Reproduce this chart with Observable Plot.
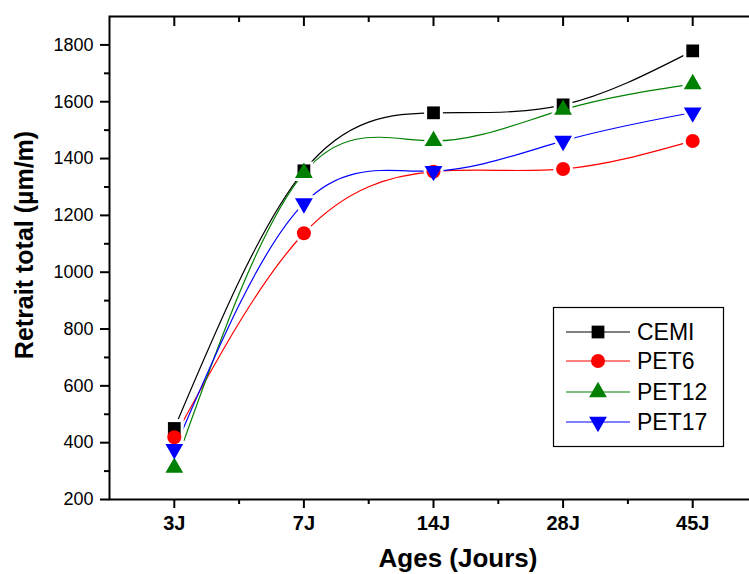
<!DOCTYPE html>
<html><head><meta charset="utf-8">
<script src="https://cdn.jsdelivr.net/npm/d3@7"></script>
<script src="https://cdn.jsdelivr.net/npm/@observablehq/plot@0.6"></script>
<style>
body{margin:0;background:#fff;}
#chart{position:relative;width:749px;height:574px;overflow:hidden;background:#fff;}
#chart svg{display:block;}
#overlay{position:absolute;left:0;top:0;pointer-events:none;}
</style></head><body><div id="chart"></div>
<script>
// ---- data ----
const ages = ["3J", "7J", "14J", "28J", "45J"];
const cemi  = [450, 1357, 1561, 1589, 1779];
const pet6  = [419, 1137, 1354, 1363, 1462];
const pet12 = [312, 1350, 1462, 1572, 1662];
const pet17 = [377, 1242, 1356, 1462, 1562];
const seriesNames  = ["CEMI", "PET6", "PET12", "PET17"];
const seriesValues = [cemi, pet6, pet12, pet17];
const seriesColors = ["#000000", "#ff0000", "#008000", "#0000ff"];
const yMajorTicks = [200, 400, 600, 800, 1000, 1200, 1400, 1600, 1800];
const yMinorTicks = [300, 500, 700, 900, 1100, 1300, 1500, 1700];
const xMajorTicks = [1, 2, 3, 4, 5];
const xMinorTicks = [1.5, 2.5, 3.5, 4.5];
const yDomain = [200, 1900];
const xDomain = [0.5, 5.5];
const xTitle = "Ages (Jours)";
const yTitle = "Retrait total (µm/m)";

// ---- symbols ----
const sqrt3 = Math.sqrt(3);
const triangleDown = {
  draw(context, size) {
    const y = -Math.sqrt(size / (sqrt3 * 3));
    context.moveTo(0, -y * 2);
    context.lineTo(-sqrt3 * y, y);
    context.lineTo(sqrt3 * y, y);
    context.closePath();
  }
};
const seriesSymbols = ["square", "circle", "triangle", triangleDown];
const seriesR = [7.2, 7, 6.6, 6.6];

const rows = [];
seriesNames.forEach((s, k) => seriesValues[k].forEach((v, i) => rows.push({series: s, k, x: i + 1, age: ages[i], v})));

const font = "'Liberation Sans', Arial, sans-serif";
const marks = [];
// lines
seriesNames.forEach((s, k) => {
  marks.push(Plot.line(rows.filter(d => d.k === k), {x: "x", y: "v", stroke: seriesColors[k], strokeWidth: 1.2, curve: "natural"}));
});
// halos
seriesNames.forEach((s, k) => {
  marks.push(Plot.dot(rows.filter(d => d.k === k), {x: "x", y: "v", symbol: seriesSymbols[k], r: seriesR[k], fill: "white", stroke: "white", strokeWidth: 6}));
});
// markers
seriesNames.forEach((s, k) => {
  marks.push(Plot.dot(rows.filter(d => d.k === k), {x: "x", y: "v", symbol: seriesSymbols[k], r: seriesR[k], fill: seriesColors[k], stroke: "none"}));
});
// axes
const blank = () => "";
marks.push(
  Plot.axisY(yMajorTicks, {anchor: "left", tickSize: 9, tickPadding: 7, fontSize: 18, strokeWidth: 2, tickFormat: d => String(d), label: null}),
  Plot.axisY(yMinorTicks, {anchor: "left", tickSize: 5, tickFormat: blank, strokeWidth: 2, label: null}),
  Plot.axisY(yMajorTicks, {anchor: "right", tickSize: 9, dx: -9, tickFormat: blank, strokeWidth: 2, label: null}),
  Plot.axisY(yMinorTicks, {anchor: "right", tickSize: 5, dx: -5, tickFormat: blank, strokeWidth: 2, label: null}),
  Plot.axisX(xMajorTicks, {anchor: "bottom", tickSize: 9, tickPadding: 7, fontSize: 20, fontWeight: "bold", tickFormat: d => ages[d - 1], strokeWidth: 2, label: null}),
  Plot.axisX(xMinorTicks, {anchor: "bottom", tickSize: 5, tickFormat: blank, strokeWidth: 2, label: null}),
  Plot.axisX(xMajorTicks, {anchor: "top", tickSize: 9, dy: 9, tickFormat: blank, strokeWidth: 2, label: null}),
  Plot.axisX(xMinorTicks, {anchor: "top", tickSize: 5, dy: 5, tickFormat: blank, strokeWidth: 2, label: null}),
  Plot.frame({stroke: "black", strokeWidth: 2})
);

const chart = Plot.plot({
  width: 749, height: 574,
  marginLeft: 109, marginRight: -8, marginTop: 16, marginBottom: 75,
  x: {type: "linear", domain: xDomain},
  y: {type: "linear", domain: yDomain},
  style: {fontFamily: font, background: "white", color: "black", overflow: "hidden"},
  marks
});
const host = document.getElementById("chart");
host.appendChild(chart);

// ---- overlay: titles + legend ----
const ov = d3.select(host).append("svg").attr("id", "overlay").attr("width", 749).attr("height", 574)
  .style("font-family", font);
ov.append("text").attr("x", 458).attr("y", 567).attr("text-anchor", "middle")
  .attr("font-size", 26).attr("font-weight", "bold").text(xTitle);
ov.append("text").attr("transform", "translate(33,245) rotate(-90)").attr("text-anchor", "middle")
  .attr("font-size", 25).attr("font-weight", "bold").text(yTitle);

const lg = ov.append("g");
lg.append("rect").attr("x", 553.5).attr("y", 307.5).attr("width", 170).attr("height", 139)
  .attr("fill", "white").attr("stroke", "black").attr("stroke-width", 1.2);
const rowY = [332, 361, 392, 422];
const symGen = [d3.symbolSquare, d3.symbolCircle, d3.symbolTriangle, triangleDown];
seriesNames.forEach((s, k) => {
  const y = rowY[k];
  lg.append("line").attr("x1", 566).attr("x2", 630).attr("y1", y).attr("y2", y)
    .attr("stroke", seriesColors[k]).attr("stroke-width", 1.2);
  lg.append("path").attr("transform", `translate(598,${y})`)
    .attr("d", d3.symbol(symGen[k], Math.PI * seriesR[k] * seriesR[k])())
    .attr("fill", seriesColors[k]);
  lg.append("text").attr("x", 637).attr("y", y + 8).attr("font-size", 23).text(s);
});
</script></body></html>
